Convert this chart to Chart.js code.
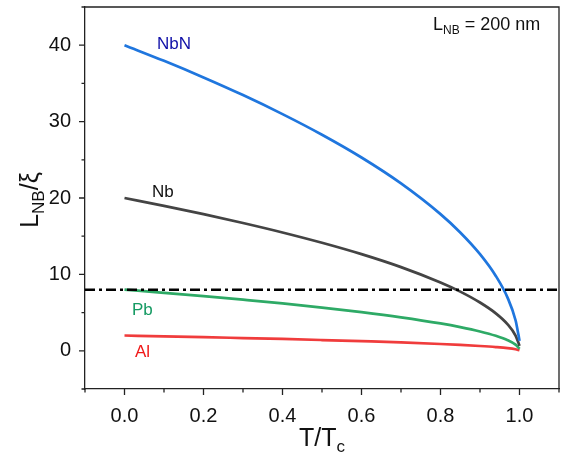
<!DOCTYPE html>
<html>
<head>
<meta charset="utf-8">
<script src="https://cdn.jsdelivr.net/npm/chart.js@4.4.1/dist/chart.umd.min.js"></script>
<style>
  html, body { margin: 0; padding: 0; background: #fff; }
  #wrap { width: 564px; height: 458px; position: relative; }
</style>
</head>
<body>
<div id="wrap"><canvas id="ratio_chart"></canvas></div>
<script>
// Reduced temperature T/Tc, shared by every curve
const tValues = [0, 0.1, 0.2, 0.3, 0.4, 0.5, 0.6, 0.7, 0.8, 0.85, 0.9, 0.94, 0.97, 0.99, 0.997, 1.0];

// L_NB / xi for each material
const nbnValues = [40, 37.95, 35.78, 33.47, 30.98, 28.28, 25.30, 21.91, 17.89, 15.49, 12.65, 9.80, 6.93, 4.00, 2.19, 1.30];
const nbValues  = [20, 18.97, 17.89, 16.73, 15.49, 14.14, 12.65, 10.95, 8.94, 7.75, 6.32, 4.90, 3.46, 2.00, 1.10, 0.65];
const pbValues  = [8, 7.59, 7.16, 6.69, 6.20, 5.66, 5.06, 4.38, 3.58, 3.10, 2.53, 1.96, 1.39, 0.80, 0.44, 0.26];
const alValues  = [2, 1.90, 1.79, 1.67, 1.55, 1.41, 1.26, 1.10, 0.89, 0.77, 0.63, 0.49, 0.35, 0.20, 0.11, 0.07];

// Horizontal threshold line
const thresholdX = [-0.1, 1.1];
const thresholdY = [8, 8];

// Axis ticks
const xMajorTicks = [0, 0.2, 0.4, 0.6, 0.8, 1.0];
const xMinorTicks = [-0.1, 0.1, 0.3, 0.5, 0.7, 0.9, 1.1];
const yMajorTicks = [0, 10, 20, 30, 40];
const yMinorTicks = [-5, 5, 15, 25, 35, 45];

const FONT = "'Liberation Sans', Arial, sans-serif";
const AXIS_COLOR = "#222";

const toPoints = (xs, ys) => xs.map((x, i) => ({ x, y: ys[i] }));

const curve = (label, values, color, order) => ({
  label,
  data: toPoints(tValues, values),
  borderColor: color,
  borderWidth: 2.7,
  pointRadius: 0,
  cubicInterpolationMode: "monotone",
  fill: false,
  order,
});

// draws a run of [text, fontSize, baselineShift] pieces starting at x
function drawRuns(ctx, runs, x, y) {
  runs.forEach(([s, size, dy]) => {
    ctx.font = `${size}px ${FONT}`;
    ctx.fillText(s, x, y + dy);
    x += ctx.measureText(s).width;
  });
}

function runsWidth(ctx, runs) {
  return runs.reduce((w, [s, size]) => { ctx.font = `${size}px ${FONT}`; return w + ctx.measureText(s).width; }, 0);
}

// Ticks, frame, axis titles and in-plot labels
const decorPlugin = {
  id: "decor",
  afterDraw(chart) {
    const { ctx, chartArea: a, scales: { x, y } } = chart;
    ctx.save();
    ctx.strokeStyle = AXIS_COLOR;
    ctx.lineWidth = 1.3;

    // top and right frame
    ctx.beginPath();
    ctx.moveTo(a.left, a.top); ctx.lineTo(a.right, a.top); ctx.lineTo(a.right, a.bottom);
    ctx.stroke();

    ctx.beginPath();
    xMajorTicks.forEach((v) => { const p = x.getPixelForValue(v); ctx.moveTo(p, a.bottom); ctx.lineTo(p, a.bottom + 6); });
    xMinorTicks.forEach((v) => { const p = x.getPixelForValue(v); ctx.moveTo(p, a.bottom); ctx.lineTo(p, a.bottom + 3.5); });
    yMajorTicks.forEach((v) => { const p = y.getPixelForValue(v); ctx.moveTo(a.left, p); ctx.lineTo(a.left - 6, p); });
    yMinorTicks.forEach((v) => { const p = y.getPixelForValue(v); ctx.moveTo(a.left, p); ctx.lineTo(a.left - 3.5, p); });
    ctx.stroke();

    ctx.fillStyle = "#111";
    ctx.textAlign = "left";
    ctx.textBaseline = "alphabetic";

    // x title: T/Tc
    const xTitle = [["T/T", 25, 0], ["c", 17, 6]];
    drawRuns(ctx, xTitle, (a.left + a.right) / 2 - runsWidth(ctx, xTitle) / 2, 446);

    // y title: L_NB/xi, rotated
    const yTitle = [["L", 25, 0], ["NB", 17, 6], ["/ξ", 25, 0]];
    ctx.save();
    ctx.translate(38, 200);
    ctx.rotate(-Math.PI / 2);
    drawRuns(ctx, yTitle, -runsWidth(ctx, yTitle) / 2, 0);
    ctx.restore();

    // annotation in the upper right corner
    drawRuns(ctx, [["L", 18, 0], ["NB", 12, 4], [" = 200 nm", 18, 0]], 433, 30);

    // curve labels
    ctx.font = `17px ${FONT}`;
    [["NbN", "#1010a8", 157, 49], ["Nb", "#111", 152, 197], ["Pb", "#149a62", 132, 315], ["Al", "#f01818", 135, 357]]
      .forEach(([t, c, lx, ly]) => { ctx.fillStyle = c; ctx.fillText(t, lx, ly); });

    ctx.restore();
  },
};

new Chart(document.getElementById("ratio_chart").getContext("2d"), {
  type: "line",
  data: {
    datasets: [
      {
        label: "threshold",
        data: toPoints(thresholdX, thresholdY),
        borderColor: "#000",
        borderWidth: 2.6,
        borderDash: [10, 4, 3, 4],
        pointRadius: 0,
        fill: false,
        order: 0,
      },
      curve("NbN", nbnValues, "#1f76de", 1),
      curve("Nb", nbValues, "#444444", 2),
      curve("Pb", pbValues, "#2eaa66", 3),
      curve("Al", alValues, "#f03c3c", 4),
    ],
  },
  options: {
    responsive: true,
    maintainAspectRatio: false,
    animation: false,
    layout: { padding: { left: 0, top: 7, right: 5, bottom: 0 } },
    plugins: { legend: { display: false }, tooltip: { enabled: false } },
    scales: {
      x: {
        type: "linear",
        min: -0.1,
        max: 1.1,
        afterFit: (s) => { s.height = 69; s.paddingLeft = 0; s.paddingRight = 0; },
        afterBuildTicks: (s) => { s.ticks = xMajorTicks.map((v) => ({ value: v })); },
        grid: { display: false, drawTicks: false },
        border: { display: true, color: AXIS_COLOR, width: 1.3 },
        ticks: {
          padding: 15,
          color: "#111",
          font: { family: FONT, size: 20 },
          callback: (v) => v.toFixed(1),
          maxRotation: 0,
        },
      },
      y: {
        min: -5,
        max: 45,
        afterFit: (s) => { s.width = 85; s.paddingTop = 0; s.paddingBottom = 0; },
        afterBuildTicks: (s) => { s.ticks = yMajorTicks.map((v) => ({ value: v })); },
        grid: { display: false, drawTicks: false },
        border: { display: true, color: AXIS_COLOR, width: 1.3 },
        ticks: {
          padding: 14,
          color: "#111",
          font: { family: FONT, size: 20 },
        },
      },
    },
  },
  plugins: [decorPlugin],
});
</script>
</body>
</html>
